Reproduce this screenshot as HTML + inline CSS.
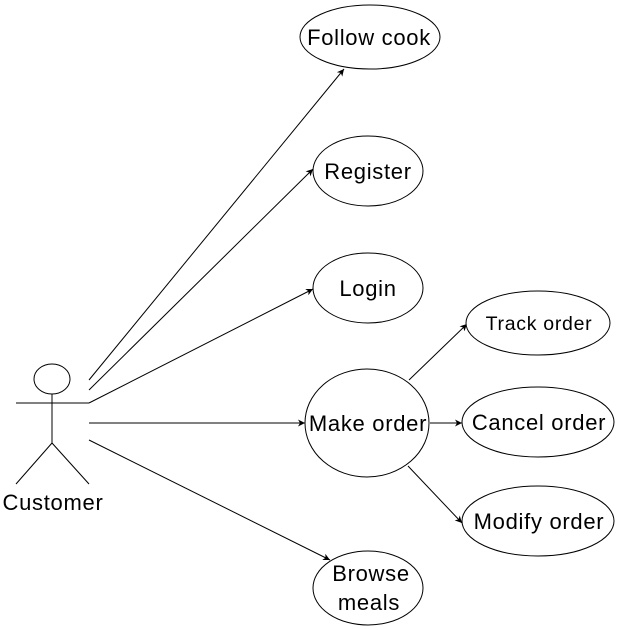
<!DOCTYPE html>
<html><head><style>body{margin:0;background:#fff}svg{display:block}text{font-family:"Liberation Sans",sans-serif;fill:#000;letter-spacing:0.7px}</style></head>
<body>
<svg width="619" height="630" viewBox="0 0 619 630" xmlns="http://www.w3.org/2000/svg">
<defs><marker id="a" markerWidth="8" markerHeight="8" refX="7" refY="4" orient="auto" markerUnits="userSpaceOnUse"><path d="M0,0.5 L7,4 L0,7.5 L2,4 Z" fill="#000"/></marker></defs>
<g stroke="#000" fill="#fff" stroke-width="1">
<ellipse cx="52" cy="379" rx="18" ry="15"/>
<line x1="16" y1="403" x2="89" y2="403"/>
<line x1="52" y1="394" x2="52" y2="443"/>
<line x1="52" y1="443" x2="16" y2="484"/>
<line x1="52" y1="443" x2="89" y2="484"/>
</g>
<g stroke="#000" stroke-width="1" marker-end="url(#a)" fill="none">
<line x1="89" y1="380" x2="344" y2="69"/>
<line x1="89" y1="390" x2="313" y2="169"/>
<line x1="89" y1="403" x2="313" y2="289"/>
<line x1="89" y1="423" x2="305" y2="423"/>
<line x1="89" y1="440" x2="330" y2="560"/>
<line x1="409" y1="380" x2="467" y2="324"/>
<line x1="430" y1="423" x2="462" y2="423"/>
<line x1="408" y1="466" x2="462" y2="523"/>
</g>
<g stroke="#000" fill="#fff" stroke-width="1">
<ellipse cx="370" cy="37" rx="70" ry="32"/>
<ellipse cx="368" cy="171" rx="55" ry="35"/>
<ellipse cx="368" cy="288" rx="55" ry="35"/>
<ellipse cx="367" cy="423" rx="62" ry="54"/>
<ellipse cx="538" cy="323" rx="72" ry="32"/>
<ellipse cx="538" cy="422" rx="76" ry="35"/>
<ellipse cx="538" cy="521" rx="76" ry="35"/>
<ellipse cx="368" cy="588" rx="55" ry="37"/>
</g>
<g font-size="22" text-anchor="middle">
<text x="53" y="510">Customer</text>
<text x="369" y="45">Follow cook</text>
<text x="368" y="179">Register</text>
<text x="368" y="296">Login</text>
<text x="368" y="431">Make order</text>
<text x="539" y="330" font-size="19.5">Track order</text>
<text x="539" y="430">Cancel order</text>
<text x="539" y="529">Modify order</text>
<text x="371" y="581">Browse</text>
<text x="369" y="610">meals</text>
</g>
</svg>
</body></html>
